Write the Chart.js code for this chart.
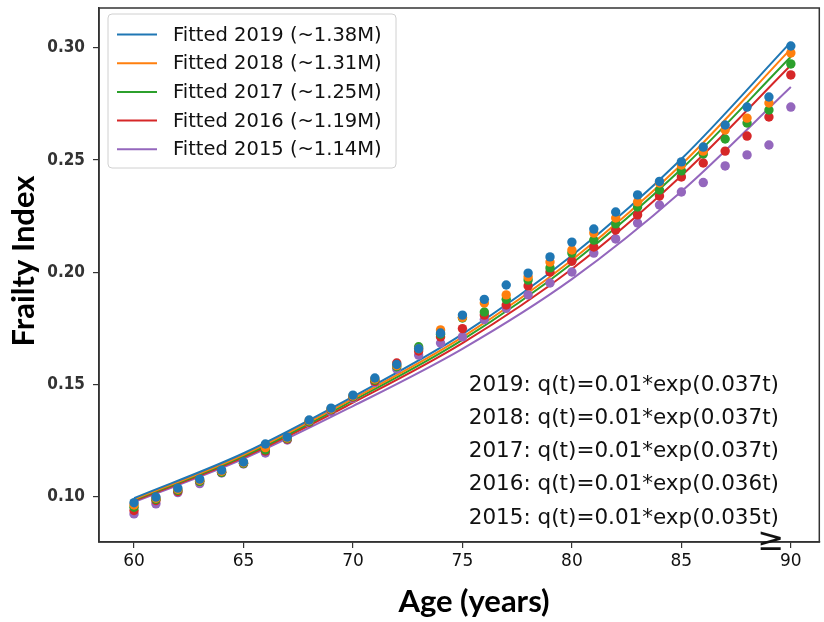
<!DOCTYPE html>
<html>
<head>
<meta charset="utf-8">
<script src="https://cdn.jsdelivr.net/npm/chart.js@4/dist/chart.umd.min.js"></script>
<style>
html,body{margin:0;padding:0;background:#fff;}
#wrap{width:824px;height:622px;position:relative;}
</style>
</head>
<body>
<div id="wrap"><canvas id="c" width="824" height="622"></canvas></div>
<script>
// ---- data ----
const ages = [60,61,62,63,64,65,66,67,68,69,70,71,72,73,74,75,76,77,78,79,80,81,82,83,84,85,86,87,88,89,90];
const obs2019 = [0.0975,0.1000,0.1040,0.1080,0.1120,0.1156,0.1236,0.1267,0.1343,0.1396,0.1454,0.1530,0.1590,0.1660,0.1730,0.1810,0.1880,0.1944,0.1997,0.2069,0.2135,0.2193,0.2269,0.2345,0.2405,0.2492,0.2558,0.2656,0.2736,0.2781,0.3008];
const obs2018 = [0.0965,0.0995,0.1035,0.1075,0.1115,0.1153,0.1220,0.1263,0.1340,0.1392,0.1450,0.1525,0.1585,0.1660,0.1744,0.1800,0.1864,0.1900,0.1980,0.2046,0.2100,0.2175,0.2242,0.2314,0.2398,0.2478,0.2540,0.2634,0.2687,0.2754,0.2977];
const obs2017 = [0.0955,0.0990,0.1030,0.1070,0.1110,0.1150,0.1210,0.1260,0.1336,0.1390,0.1447,0.1520,0.1580,0.1669,0.1725,0.1797,0.1824,0.1880,0.1966,0.2020,0.2086,0.2144,0.2216,0.2291,0.2367,0.2452,0.2527,0.2594,0.2665,0.2723,0.2928];
const obs2016 = [0.0940,0.0985,0.1025,0.1070,0.1110,0.1150,0.1205,0.1258,0.1333,0.1388,0.1445,0.1515,0.1597,0.1650,0.1713,0.1750,0.1810,0.1855,0.1940,0.2002,0.2050,0.2113,0.2189,0.2256,0.2340,0.2425,0.2487,0.2540,0.2607,0.2692,0.2879];
const obs2015 = [0.0925,0.0970,0.1020,0.1060,0.1107,0.1147,0.1196,0.1254,0.1330,0.1380,0.1440,0.1510,0.1570,0.1632,0.1686,0.1713,0.1790,0.1840,0.1900,0.1953,0.2002,0.2086,0.2149,0.2220,0.2300,0.2358,0.2400,0.2474,0.2523,0.2567,0.2736];

const fitAges = [60,65,70,75,80,85,90];
const fit2019 = [0.0995,0.1195,0.1447,0.1725,0.2075,0.2505,0.3025];
const fit2018 = [0.0990,0.1188,0.1438,0.1712,0.2055,0.2480,0.2995];
const fit2017 = [0.0987,0.1182,0.1430,0.1700,0.2040,0.2460,0.2960];
const fit2016 = [0.0983,0.1177,0.1420,0.1685,0.2015,0.2430,0.2922];
const fit2015 = [0.0978,0.1170,0.1405,0.1660,0.1970,0.2360,0.2825];

const years = ['2019','2018','2017','2016','2015'];
const fitLabels = ['Fitted 2019 (~1.38M)','Fitted 2018 (~1.31M)','Fitted 2017 (~1.25M)','Fitted 2016 (~1.19M)','Fitted 2015 (~1.14M)'];
const equations = ['2019: q(t)=0.01*exp(0.037t)','2018: q(t)=0.01*exp(0.037t)','2017: q(t)=0.01*exp(0.037t)','2016: q(t)=0.01*exp(0.036t)','2015: q(t)=0.01*exp(0.035t)'];
const xTicks = [60,65,70,75,80,85,90];
const yTicks = [0.10,0.15,0.20,0.25,0.30];
const xTitle = 'Age (years)';
const yTitle = 'Frailty Index';

// ---- styling ----
const colors = ['#1f77b4','#ff7f0e','#2ca02c','#d62728','#9467bd'];
const fits = [fit2019,fit2018,fit2017,fit2016,fit2015];
const obs = [obs2019,obs2018,obs2017,obs2016,obs2015];

const datasets = [];
fits.forEach((f,k)=>{
  datasets.push({
    type:'line', label: fitLabels[k],
    data: fitAges.map((a,i)=>({x:a,y:f[i]})),
    borderColor: colors[k], backgroundColor: colors[k],
    borderWidth: 2, pointRadius: 0, fill:false,
    cubicInterpolationMode:'monotone', order: 2
  });
});
obs.forEach((o,k)=>{
  datasets.push({
    type:'scatter', label: 'Observed ' + years[k],
    data: ages.map((a,i)=>({x:a,y:o[i]})),
    backgroundColor: colors[k], borderColor: colors[k],
    pointRadius: 4.7, pointBorderWidth: 0, order: 1
  });
});

const overlay = {
  id:'overlay',
  afterDraw(chart){
    const ctx = chart.ctx, a = chart.chartArea;
    ctx.save();
    // frame
    ctx.strokeStyle = '#333'; ctx.lineWidth = 1.5;
    ctx.strokeRect(a.left, a.top, a.right - a.left, a.bottom - a.top);
    // legend
    const lx = 108, ly = 14, lw = 288, lh = 154;
    ctx.fillStyle = 'rgba(255,255,255,0.85)';
    ctx.strokeStyle = '#d0d0d0'; ctx.lineWidth = 1;
    ctx.beginPath();
    if (ctx.roundRect) ctx.roundRect(lx, ly, lw, lh, 4); else ctx.rect(lx,ly,lw,lh);
    ctx.fill(); ctx.stroke();
    ctx.font = '19.5px "DejaVu Sans"';
    ctx.textBaseline = 'middle'; ctx.textAlign = 'left';
    fitLabels.forEach((t,i)=>{
      const y = 34.5 + i*28.7;
      ctx.strokeStyle = colors[i]; ctx.lineWidth = 2;
      ctx.beginPath(); ctx.moveTo(117, y); ctx.lineTo(157, y); ctx.stroke();
      ctx.fillStyle = '#111';
      ctx.fillText(t, 173, y + 1);
    });
    // equations
    ctx.font = '21.5px "DejaVu Sans"';
    ctx.textAlign = 'right'; ctx.fillStyle = '#111';
    equations.forEach((t,i)=>{
      ctx.fillText(t, 779, 385 + i*33.3);
    });
    // >= sign near 90
    ctx.font = '32px "DejaVu Sans"';
    ctx.textAlign = 'center';
    ctx.fillText('\u2265', 771, 542);
    // axis titles
    ctx.font = 'bold 31px Lato';
    ctx.fillStyle = '#000';
    ctx.textAlign = 'center'; ctx.textBaseline = 'middle';
    ctx.fillText(xTitle, 474, 602);
    ctx.translate(24, 261);
    ctx.rotate(-Math.PI/2);
    ctx.fillText(yTitle, 0, 0);
    ctx.restore();
  }
};

new Chart(document.getElementById('c'), {
  type:'scatter',
  data:{datasets},
  options:{
    responsive:false, animation:false,
    layout:{padding:{top:8,right:2,left:0,bottom:0}},
    plugins:{legend:{display:false}, tooltip:{enabled:false}},
    scales:{
      x:{
        type:'linear', min:58.4, max:91.3,
        afterBuildTicks(s){ s.ticks = xTicks.map(v=>({value:v})); },
        afterFit(s){ s.height = 80; s.paddingLeft = 0; s.paddingRight = 0; },
        grid:{drawOnChartArea:false, drawTicks:true, tickLength:6, color:'#333', lineWidth:1.2},
        border:{display:true, color:'#333', width:1.5},
        ticks:{font:{family:'"DejaVu Sans"', size:17}, color:'#111', padding:3, maxRotation:0,
          callback:(v)=>String(v)}
      },
      y:{
        type:'linear', min:0.080, max:0.3177,
        afterBuildTicks(s){ s.ticks = yTicks.map(v=>({value:v})); },
        afterFit(s){ s.width = 99; s.paddingTop = 0; s.paddingBottom = 0; },
        grid:{drawOnChartArea:false, drawTicks:true, tickLength:6, color:'#333', lineWidth:1.2},
        border:{display:true, color:'#333', width:1.5},
        ticks:{font:{family:'"DejaVu Sans Condensed", "DejaVu Sans"', size:17, weight:'bold'}, color:'#333', padding:8,
          callback:(v)=>Number(v).toFixed(2)}
      }
    }
  },
  plugins:[overlay]
});
</script>
</body>
</html>
